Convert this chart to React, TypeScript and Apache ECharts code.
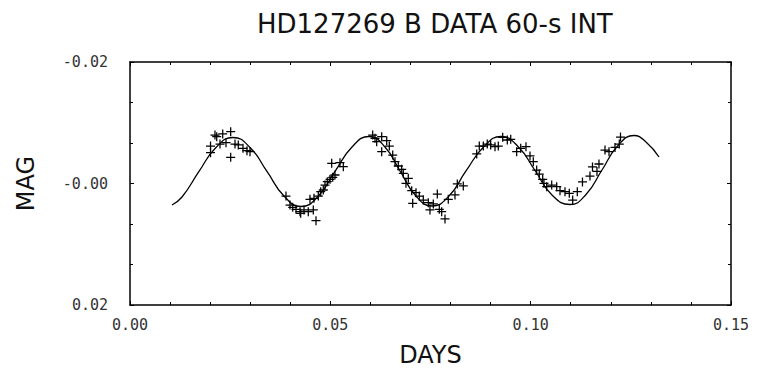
import React, { useEffect, useRef } from 'react';
import * as echarts from 'echarts';

// Observed photometry (time in days, magnitude)
const obsDays = [
  0.0201, 0.0201, 0.02121, 0.02164, 0.02246, 0.02314, 0.02396, 0.02513, 0.02513, 0.02621,
  0.02703, 0.0282, 0.0292, 0.02995,
  0.03893, 0.03993, 0.04061, 0.04143, 0.04243, 0.0426, 0.04343, 0.0445, 0.04575, 0.04642,
  0.04492, 0.04592, 0.047, 0.0476, 0.04824, 0.04867, 0.04924, 0.04992, 0.05059, 0.05116,
  0.05034, 0.05241, 0.05324,
  0.06057, 0.06115, 0.06157, 0.06282, 0.06282, 0.06407, 0.06472, 0.06557, 0.06614, 0.06696,
  0.06781, 0.06821, 0.06946, 0.06888, 0.07031, 0.07138, 0.0722, 0.07056, 0.0732, 0.07445,
  0.07487, 0.0757, 0.0767, 0.0772, 0.07779, 0.07862, 0.07944, 0.08111, 0.08169, 0.08318,
  0.08653, 0.08718, 0.08818, 0.08917, 0.09002, 0.0911, 0.09192, 0.09302, 0.09417, 0.09502,
  0.09651, 0.09751, 0.09883, 0.09983, 0.10066, 0.1015, 0.10215, 0.103, 0.10332, 0.104,
  0.10525, 0.1065, 0.10732, 0.10857, 0.10964, 0.11049, 0.11164, 0.11293, 0.1148, 0.11543,
  0.11655, 0.11705, 0.11855, 0.11955, 0.12105, 0.12212, 0.12242
];
const obsMag = [
  -0.00617, -0.00507, -0.00798, -0.0077, -0.0065, -0.00815, -0.00672, -0.00853, -0.00431, -0.0065,
  -0.00634, -0.00579, -0.0054, -0.00523,
  0.00206, 0.00354, 0.00392, 0.00425, 0.00464, 0.00491, 0.00436, 0.00464, 0.00436, 0.00612,
  0.0026, 0.00244, 0.00206, 0.00135, 0.00107, 0.00025, -0.0003, -0.00069, -0.00102, -0.0014,
  -0.00333, -0.00342, -0.00277,
  -0.00798, -0.00744, -0.00688, -0.0077, -0.00523, -0.00705, -0.00617, -0.00469, -0.00359, -0.00288,
  -0.00234, -0.00168, -0.00086, -0.00003, 0.00119, 0.00151, 0.00206, 0.00326, 0.00272, 0.00316,
  0.00436, 0.00337, 0.00173, 0.00425, 0.00464, 0.00584, 0.0026, 0.00189, 0.00008, 0.00041,
  -0.00486, -0.00617, -0.00617, -0.0065, -0.00634, -0.00606, -0.00617, -0.0076, -0.00716, -0.00728,
  -0.00523, -0.00579, -0.00606, -0.00453, -0.00359, -0.00222, -0.00156, -0.00069, -0.00003, 0.00053,
  0.00025, 0.00053, 0.00119, 0.00135, 0.00161, 0.00272, 0.00135, -0.00025, -0.00123, -0.00272,
  -0.00198, -0.00321, -0.00551, -0.00523, -0.00593, -0.0065, -0.00765
];

// Fitted curve
const fitDays = [
  0.01048, 0.01298, 0.01722, 0.02146, 0.02571, 0.02995, 0.03419, 0.03843, 0.04268, 0.04692,
  0.05116, 0.05541, 0.05965, 0.06364, 0.06739, 0.07138, 0.07537, 0.07962, 0.08386, 0.08835,
  0.09259, 0.09684, 0.10108, 0.10532, 0.10982, 0.11381, 0.1178, 0.1218, 0.12579, 0.12878,
  0.13203
];
const fitMag = [
  0.00354, 0.00222, -0.00198, -0.00593, -0.00757, -0.00593, -0.00198, 0.00206, 0.00379, 0.00214,
  -0.00198, -0.00601, -0.00774, -0.00601, -0.00206, 0.00206, 0.0037, 0.00206, -0.00206, -0.00609,
  -0.00774, -0.00609, -0.00214, 0.00189, 0.00346, 0.00181, -0.00222, -0.00626, -0.0079, -0.00683,
  -0.00436
];

const xTickValues = [0, 0.05, 0.1, 0.15];
const xTickLabels = ['0.00', '0.05', '0.10', '0.15'];
const yTickValues = [-0.02, 0, 0.02];
const yTickLabels = ['-0.02', '-0.00', '0.02'];

const PLUS =
  'path://M-1,-0.14L-0.14,-0.14L-0.14,-1L0.14,-1L0.14,-0.14L1,-0.14L1,0.14L0.14,0.14L0.14,1L-0.14,1L-0.14,0.14L-1,0.14Z';

const pick = (vals: number[], labels: string[]) => (v: number) => {
  const i = vals.findIndex((t) => Math.abs(t - v) < 1e-9);
  return i >= 0 ? labels[i] : '';
};

const INK = '#000';
const LABEL = '#333';

export default function App() {
  const ref = useRef<HTMLDivElement>(null);
  useEffect(() => {
    if (!ref.current) return;
    const chart = echarts.init(ref.current, undefined, { renderer: 'svg' });
    const tickCommon = {
      axisLine: { show: true, onZero: false, lineStyle: { color: INK, width: 1.5 } },
      axisTick: { show: true, inside: true, length: 4, lineStyle: { color: INK, width: 1 } },
      splitLine: { show: false },
    };
    chart.setOption({
      animation: false,
      backgroundColor: '#fff',
      title: {
        text: 'HD127269 B DATA 60-s INT',
        left: 252,
        top: 6,
        textStyle: { fontFamily: 'DejaVu Sans', fontSize: 26, fontWeight: 'normal', color: '#111' },
      },
      grid: { left: 130, right: 30, top: 62, bottom: 76, containLabel: false },
      xAxis: [
        {
          type: 'value',
          position: 'bottom',
          min: 0,
          max: 0.15,
          interval: 0.05,
          ...tickCommon,
          minorTick: { show: true, splitNumber: 5, length: 3, lineStyle: { color: INK } },
          axisLabel: {
            formatter: pick(xTickValues, xTickLabels),
            fontFamily: 'DejaVu Sans Mono',
            fontSize: 15,
            color: LABEL,
            margin: 12,
          },
          name: 'DAYS',
          nameLocation: 'middle',
          nameGap: 38,
          nameTextStyle: { fontFamily: 'DejaVu Sans', fontSize: 24, color: '#111' },
        },
        {
          type: 'value',
          position: 'top',
          min: 0,
          max: 0.15,
          interval: 0.05,
          ...tickCommon,
          minorTick: { show: true, splitNumber: 5, length: 3, lineStyle: { color: INK } },
          axisLabel: { show: false },
        },
      ],
      yAxis: [
        {
          type: 'value',
          position: 'left',
          inverse: true,
          min: -0.02,
          max: 0.02,
          interval: 0.02,
          ...tickCommon,
          minorTick: { show: true, splitNumber: 3, length: 3, lineStyle: { color: INK } },
          axisLabel: {
            formatter: pick(yTickValues, yTickLabels),
            fontFamily: 'DejaVu Sans Mono',
            fontSize: 15,
            color: LABEL,
            margin: 22,
          },
          name: 'MAG',
          nameLocation: 'middle',
          nameGap: 92,
          nameRotate: 90,
          nameTextStyle: { fontFamily: 'DejaVu Sans', fontSize: 24, color: '#111' },
        },
        {
          type: 'value',
          position: 'right',
          inverse: true,
          min: -0.02,
          max: 0.02,
          interval: 0.02,
          ...tickCommon,
          minorTick: { show: true, splitNumber: 3, length: 3, lineStyle: { color: INK } },
          axisLabel: { show: false },
        },
      ],
      series: [
        {
          type: 'line',
          xAxisIndex: 0,
          yAxisIndex: 0,
          data: fitDays.map((d, i) => [d, fitMag[i]]),
          smooth: true,
          symbol: 'none',
          showSymbol: false,
          lineStyle: { color: INK, width: 1.3 },
          z: 2,
        },
        {
          type: 'scatter',
          xAxisIndex: 0,
          yAxisIndex: 0,
          data: obsDays.map((d, i) => [d, obsMag[i]]),
          symbol: PLUS,
          symbolSize: 9,
          itemStyle: { color: INK, opacity: 1 },
          z: 3,
        },
      ],
    });
    return () => chart.dispose();
  }, []);
  return (
    <div
      ref={ref}
      style={{ position: 'fixed', left: 0, top: 0, width: 761, height: 381, background: '#fff' }}
    />
  );
}
